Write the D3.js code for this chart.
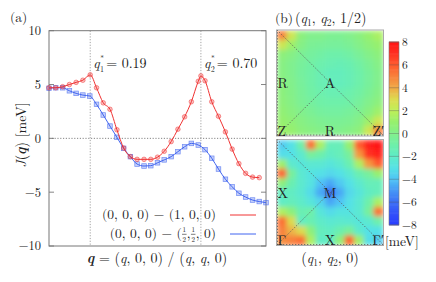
<!DOCTYPE html>
<html>
<head>
<meta charset="utf-8">
<script src="https://cdn.jsdelivr.net/npm/d3@7"></script>
<style>
body { margin: 0; background: #fff; }
#fig text { font-family: 'Latin Modern Roman', 'Liberation Serif', serif; fill: #222; }
</style>
</head>
<body>
<svg id="fig" width="436" height="282"></svg>
<script>
// (0,0,0)-(1,0,0) cut, red
var qRed = [0, 0.031, 0.063, 0.094, 0.125, 0.156, 0.19, 0.219, 0.25, 0.281, 0.313, 0.344, 0.375, 0.406, 0.438, 0.469, 0.5, 0.531, 0.563, 0.594, 0.625, 0.656, 0.688, 0.70, 0.719, 0.75, 0.781, 0.813, 0.844, 0.875, 0.906, 0.938, 0.969];
var jRed = [4.7, 4.7, 4.8, 5.0, 5.2, 5.4, 5.9, 4.7, 3.3, 2.7, 0.8, -0.9, -1.7, -1.95, -1.95, -1.95, -1.75, -1.2, -0.3, 0.85, 2.0, 3.4, 5.3, 5.8, 5.35, 3.4, 2.05, 0.6, -1.0, -2.35, -3.25, -3.6, -3.65];
// (0,0,0)-(1/2,1/2,0) cut, blue
var qBlue = [0, 0.031, 0.063, 0.094, 0.125, 0.156, 0.188, 0.219, 0.25, 0.281, 0.313, 0.344, 0.375, 0.406, 0.438, 0.469, 0.5, 0.531, 0.563, 0.594, 0.625, 0.656, 0.688, 0.719, 0.75, 0.781, 0.813, 0.844, 0.875, 0.906, 0.938, 0.969, 1];
var jBlue = [4.65, 4.7, 4.7, 4.42, 4.18, 4.02, 3.93, 3.16, 2.17, 1.14, 0.1, -0.93, -1.7, -2.39, -2.57, -2.54, -2.27, -2.0, -1.7, -1.24, -0.78, -0.47, -0.62, -1.05, -1.85, -2.85, -3.8, -4.5, -5.1, -5.45, -5.73, -5.87, -5.97];
var yTicks = [10, 5, 0, -5, -10];
var qStar = [0.19, 0.70];
var qStarLabels = ["1", "2"];

// J(q) maps, rows from q2 = 1 (top) down to q2 = 0, columns q1 = 0 .. 1
var mapHalf = [
  [5.0, 2.5, 0.5, 0.0, 0.0, -0.2, -0.2, 0.0, 0.4, 1.0, 1.5],
  [2.5, 1.2, 0.2, -0.3, -0.4, -0.5, -0.5, -0.3, 0.1, 0.6, 1.0],
  [0.6, 0.2, -0.3, -0.6, -0.8, -1.0, -1.0, -0.8, -0.4, 0.1, 0.5],
  [0.3, -0.1, -0.5, -0.8, -1.1, -1.3, -1.4, -1.2, -0.8, -0.3, 0.2],
  [0.3, -0.1, -0.6, -0.9, -1.3, -1.6, -1.6, -1.4, -1.0, -0.5, 0.0],
  [0.4, 0.0, -0.5, -0.9, -1.3, -1.5, -1.6, -1.4, -1.0, -0.5, 0.0],
  [0.5, 0.1, -0.4, -0.8, -1.1, -1.3, -1.3, -1.1, -0.8, -0.3, 0.2],
  [0.6, 0.2, -0.3, -0.6, -0.9, -1.0, -1.0, -0.9, -0.5, 0.0, 0.5],
  [0.8, 0.4, 0.0, -0.3, -0.6, -0.7, -0.7, -0.5, -0.2, 0.4, 1.2],
  [1.0, 0.7, 0.3, 0.0, -0.2, -0.3, -0.3, -0.2, 0.2, 1.2, 2.5],
  [1.2, 1.0, 0.5, 0.3, 0.1, 0.0, 0.0, 0.2, 0.6, 2.5, 5.0]
];
var mapZero = [
  [-3.7, -3.0, -1.0, 5.5, 1.5, -1.5, -1.5, 1.0, 6.0, 7.5, 8.0],
  [-3.1, -3.0, -2.2, -0.5, -1.0, -1.8, -1.5, -0.5, 4.5, 7.0, 7.5],
  [1.2, -2.2, -2.6, -2.3, -2.3, -2.6, -2.2, -1.2, 1.5, 4.5, 6.0],
  [5.8, -0.5, -2.3, -2.8, -3.0, -3.3, -3.0, -2.3, -1.2, -0.5, 1.0],
  [0.6, -1.2, -2.2, -2.8, -4.0, -4.6, -3.8, -3.0, -2.2, -1.5, -1.5],
  [-1.75, -1.8, -2.3, -3.2, -4.6, -6.0, -4.6, -3.3, -2.6, -1.8, -1.5],
  [-1.9, -1.6, -2.0, -2.6, -3.4, -4.6, -4.0, -3.0, -2.3, -1.0, 1.5],
  [1.6, 0.5, -1.3, -1.0, -2.6, -3.2, -2.8, -2.8, -2.3, -0.5, 5.5],
  [5.5, 3.0, -1.8, -1.3, -2.0, -2.3, -2.2, -2.3, -2.6, -2.2, -1.0],
  [5.0, 3.8, 3.0, 0.5, -1.6, -1.8, -1.2, -0.5, -2.2, -3.0, -3.0],
  [4.7, 5.0, 5.5, 1.6, -1.9, -1.75, 0.6, 5.8, 1.2, -3.1, -3.7]
];
var halfLabels = [["R", 0, 0.5], ["A", 0.5, 0.5], ["Z", 0, 0], ["R", 0.5, 0], ["Z\u2032", 1, 0]];
var zeroLabels = [["X", 0, 0.5], ["M", 0.5, 0.5], ["\u0393", 0, 0], ["X", 0.5, 0], ["\u0393\u2032", 1, 0]];
var cbTicks = [8, 6, 4, 2, 0, -2, -4, -6, -8];

// colour map
var cmapStops = [-8, -7, -6, -5, -4, -3, -2, -1, 0, 1, 2, 3, 4, 5, 6, 7, 8];
var cmapColors = ["#283cff", "#3250fa", "#3c6ef5", "#4696f5", "#50c3f5", "#55e1e6", "#5febc8", "#6ef0aa", "#82f08c", "#96f06e", "#bef05a", "#dcdc50", "#f0aa46", "#f8823c", "#ff5a2d", "#ff3223", "#ff1414"];
var redCol = "#f03232", blueCol = "#4064f0";

var svg = d3.select("#fig");
var defs = svg.append("defs");

// ---------- panel (a) ----------
var x = d3.scaleLinear().domain([0, 1]).range([49, 266]);
var y = d3.scaleLinear().domain([-10, 10]).range([246, 30.7]);

var pa = svg.append("g");

pa.selectAll(".qs").data(qStar).enter().append("line")
    .attr("x1", function(d) { return x(d); }).attr("x2", function(d) { return x(d); })
    .attr("y1", y(10)).attr("y2", y(-10))
    .attr("stroke", "#999").attr("stroke-width", 0.9).attr("stroke-dasharray", "1.2,1.6");
pa.append("line")
    .attr("x1", x(0)).attr("x2", x(1)).attr("y1", y(0)).attr("y2", y(0))
    .attr("stroke", "#777").attr("stroke-width", 0.9).attr("stroke-dasharray", "1.2,1.6");

pa.append("rect")
    .attr("x", x(0)).attr("y", y(10)).attr("width", x(1) - x(0)).attr("height", y(-10) - y(10))
    .attr("fill", "none").attr("stroke", "#777").attr("stroke-width", 1);

pa.selectAll(".yt").data(yTicks).enter().append("path")
    .attr("d", function(d) {
      return "M" + x(0) + "," + y(d) + "h5M" + x(1) + "," + y(d) + "h-5";
    })
    .attr("stroke", "#777").attr("stroke-width", 0.9);
pa.selectAll(".yl").data(yTicks).enter().append("text")
    .attr("x", 41).attr("y", function(d) { return y(d); }).attr("dy", "0.35em")
    .attr("text-anchor", "end").attr("font-size", 12.5)
    .text(function(d) { return d < 0 ? "\u2212" + (-d) : d; });

var line = d3.line().curve(d3.curveMonotoneX)
    .x(function(d) { return x(d[0]); }).y(function(d) { return y(d[1]); });

var redPts = d3.zip(qRed, jRed), bluePts = d3.zip(qBlue, jBlue);

pa.append("path").datum(bluePts).attr("d", line)
    .attr("fill", "none").attr("stroke", blueCol).attr("stroke-width", 1);
pa.selectAll(".bm").data(bluePts).enter().append("rect")
    .attr("x", function(d) { return x(d[0]) - 2.3; }).attr("y", function(d) { return y(d[1]) - 2.3; })
    .attr("width", 4.6).attr("height", 4.6)
    .attr("fill", blueCol).attr("fill-opacity", 0.3).attr("stroke", blueCol).attr("stroke-opacity", 0.7).attr("stroke-width", 0.7);

pa.append("path").datum(redPts).attr("d", line)
    .attr("fill", "none").attr("stroke", redCol).attr("stroke-width", 1);
pa.selectAll(".rm").data(redPts).enter().append("circle")
    .attr("cx", function(d) { return x(d[0]); }).attr("cy", function(d) { return y(d[1]); })
    .attr("r", 2.3)
    .attr("fill", redCol).attr("fill-opacity", 0.3).attr("stroke", redCol).attr("stroke-opacity", 0.7).attr("stroke-width", 0.7);

// q* annotations: q, stacked * and index, then value
qStar.forEach(function(q, i) {
  var x0 = x(q) + 3;
  var g = pa.append("g");
  var tq = g.append("text").attr("x", x0).attr("y", 68).attr("font-size", 14).attr("font-style", "italic").text("q");
  var wq = tq.node().getComputedTextLength();
  g.append("text").attr("x", x0 + wq + 0.3).attr("y", 60.5).attr("font-size", 8.5).text("*");
  g.append("text").attr("x", x0 + wq + 0.3).attr("y", 72).attr("font-size", 8).text(qStarLabels[i]);
  g.append("text").attr("x", x0 + wq + 6.5).attr("y", 68).attr("font-size", 14)
      .text("= " + d3.format(".2f")(q));
});

pa.append("text").attr("x", 10).attr("y", 22).attr("font-size", 13.5).text("(a)");

// y label
var yl = pa.append("text").attr("transform", "translate(26,135) rotate(-90)")
    .attr("text-anchor", "middle").attr("font-size", 14);
yl.append("tspan").attr("font-style", "italic").text("J");
yl.append("tspan").text("(");
yl.append("tspan").attr("font-style", "italic").attr("font-weight", "bold").text("q");
yl.append("tspan").text(") [meV]");

// x label
var xl = pa.append("text").attr("x", 157).attr("y", 263).attr("text-anchor", "middle").attr("font-size", 14);
xl.append("tspan").attr("font-style", "italic").attr("font-weight", "bold").text("q");
xl.append("tspan").text(" = (");
xl.append("tspan").attr("font-style", "italic").text("q");
xl.append("tspan").text(", 0, 0) / (");
xl.append("tspan").attr("font-style", "italic").text("q");
xl.append("tspan").text(", ");
xl.append("tspan").attr("font-style", "italic").text("q");
xl.append("tspan").text(", 0)");

// legend
function pieceText(g, y0, pieces, size) {
  var cx = 0;
  pieces.forEach(function(p) {
    if (typeof p === "string") {
      var t = g.append("text").attr("x", cx).attr("y", y0).attr("font-size", size).text(p);
      cx += t.node().getComputedTextLength();
    } else {
      var fs = size * 0.52;
      var n = g.append("text").attr("x", cx + 0.8).attr("y", y0 - 5.6).attr("font-size", fs).text(p[0]);
      var w = n.node().getComputedTextLength();
      g.append("text").attr("x", cx + 0.8).attr("y", y0 + 4.2).attr("font-size", fs).text(p[1]);
      g.append("line").attr("x1", cx + 0.3).attr("x2", cx + w + 1.3)
          .attr("y1", y0 - 3.7).attr("y2", y0 - 3.7).attr("stroke", "#222").attr("stroke-width", 0.6);
      cx += w + 1.6;
    }
  });
  return cx;
}
var legendRows = [
  { pieces: ["(0, 0, 0) \u2212 (1, 0, 0)"], color: redCol, y: 219 },
  { pieces: ["(0, 0, 0) \u2212 (", ["1", "2"], ", ", ["1", "2"], ", 0)"], color: blueCol, y: 238 }
];
legendRows.forEach(function(r) {
  var g = pa.append("g");
  var w = pieceText(g, r.y, r.pieces, 13.5);
  g.attr("transform", "translate(" + (216 - w) + ",0)");
  pa.append("line").attr("x1", 230).attr("x2", 256).attr("y1", r.y - 4).attr("y2", r.y - 4)
      .attr("stroke", r.color).attr("stroke-width", 1);
});

// ---------- panel (b) ----------
var color = d3.scaleLinear().domain(cmapStops).range(cmapColors).clamp(true);

defs.append("filter").attr("id", "smooth")
    .attr("x", 0).attr("y", 0).attr("width", 1).attr("height", 1)
  .append("feGaussianBlur").attr("stdDeviation", 2.6).attr("edgeMode", "duplicate");

function drawMap(grid, x0, y0, w, h, labels, id) {
  var mx = d3.scaleLinear().domain([0, 1]).range([x0, x0 + w]);
  var my = d3.scaleLinear().domain([0, 1]).range([y0 + h, y0]);
  var bx = d3.scaleBand().domain(d3.range(grid[0].length)).range([x0, x0 + w]);
  var by = d3.scaleBand().domain(d3.range(grid.length)).range([y0, y0 + h]);
  defs.append("clipPath").attr("id", id).append("rect")
      .attr("x", x0).attr("y", y0).attr("width", w).attr("height", h);
  var cells = [];
  grid.forEach(function(row, r) { row.forEach(function(v, c) { cells.push([r, c, v]); }); });
  svg.append("g").attr("clip-path", "url(#" + id + ")")
    .append("g").attr("filter", "url(#smooth)")
    .selectAll("rect").data(cells).enter().append("rect")
      .attr("x", function(d) { return bx(d[1]); }).attr("y", function(d) { return by(d[0]); })
      .attr("width", bx.bandwidth() + 0.6).attr("height", by.bandwidth() + 0.6)
      .attr("fill", function(d) { return color(d[2]); });
  svg.append("rect").attr("x", x0 - 0.5).attr("y", y0 - 0.5).attr("width", w + 1).attr("height", h + 1)
      .attr("fill", "none").attr("stroke", "#aaa").attr("stroke-width", 1);
  var paths = [[[0, 1], [1, 0]], [[0, 0], [0.5, 0.5]], [[0, 0], [0, 1]], [[0, 0], [1, 0]]];
  paths.forEach(function(p) {
    svg.append("line")
        .attr("x1", mx(p[0][0]) + (p[1][0] === 0 ? 0.5 : 0)).attr("y1", my(p[0][1]) - (p[1][1] === 0 ? 0.5 : 0))
        .attr("x2", mx(p[1][0]) + (p[1][0] === 0 ? 0.5 : 0)).attr("y2", my(p[1][1]) - (p[1][1] === 0 ? 0.5 : 0))
        .attr("stroke", "#555").attr("stroke-width", 0.8).attr("stroke-dasharray", "1.3,1.7");
  });
  labels.forEach(function(l) {
    var anchor = l[1] === 0 ? "start" : (l[1] === 1 ? "end" : "middle");
    svg.append("text")
        .attr("x", mx(l[1]) + (l[1] === 0 ? 0.5 : (l[1] === 1 ? 1 : 0)))
        .attr("y", my(l[2]) + (l[2] === 0 ? 0 : 5))
        .attr("text-anchor", anchor).attr("font-size", 14).text(l[0]);
  });
}

drawMap(mapHalf, 277, 30.5, 106, 105, halfLabels, "clipHalf");
drawMap(mapZero, 277, 140, 106, 105, zeroLabels, "clipZero");

// titles
function qTitle(xp, yp, anchor, last) {
  var t = svg.append("text").attr("x", xp).attr("y", yp).attr("text-anchor", anchor).attr("font-size", 14);
  t.append("tspan").text("(");
  t.append("tspan").attr("font-style", "italic").text("q");
  t.append("tspan").attr("font-size", 9.5).attr("dy", 2.5).text("1");
  t.append("tspan").attr("dy", -2.5).text(", ");
  t.append("tspan").attr("font-style", "italic").text("q");
  t.append("tspan").attr("font-size", 9.5).attr("dy", 2.5).text("2");
  t.append("tspan").attr("dy", -2.5).text(", " + last + ")");
}
svg.append("text").attr("x", 275).attr("y", 23).attr("font-size", 13.5).text("(b)");
qTitle(295, 23, "start", "1/2");
qTitle(330, 263, "middle", "0");

// colour bar
var cy = d3.scaleLinear().domain([-8, 8]).range([225, 42]);
var cbSteps = d3.range(-8, 8, 0.1);
svg.append("g").selectAll("rect").data(cbSteps).enter().append("rect")
    .attr("x", 389).attr("width", 10)
    .attr("y", function(d) { return cy(d + 0.1) - 0.3; })
    .attr("height", function(d) { return cy(d) - cy(d + 0.1) + 0.6; })
    .attr("fill", function(d) { return color(d + 0.05); });
svg.append("rect").attr("x", 389).attr("y", cy(8)).attr("width", 10).attr("height", cy(-8) - cy(8))
    .attr("fill", "none").attr("stroke", "#777").attr("stroke-width", 0.6);
svg.selectAll(".cbt").data(cbTicks).enter().append("line")
    .attr("x1", 389).attr("x2", 399).attr("y1", function(d) { return cy(d); }).attr("y2", function(d) { return cy(d); })
    .attr("stroke", "#555").attr("stroke-opacity", 0.6).attr("stroke-width", 0.6);
svg.selectAll(".cbl").data(cbTicks).enter().append("text")
    .attr("x", 402).attr("y", function(d) { return cy(d); }).attr("dy", "0.35em")
    .attr("font-size", 11.5)
    .text(function(d) { return d < 0 ? "\u2212" + (-d) : d; });
svg.append("text").attr("x", 385).attr("y", 245.5).attr("font-size", 13.5).text("[meV]");
</script>
</body>
</html>
